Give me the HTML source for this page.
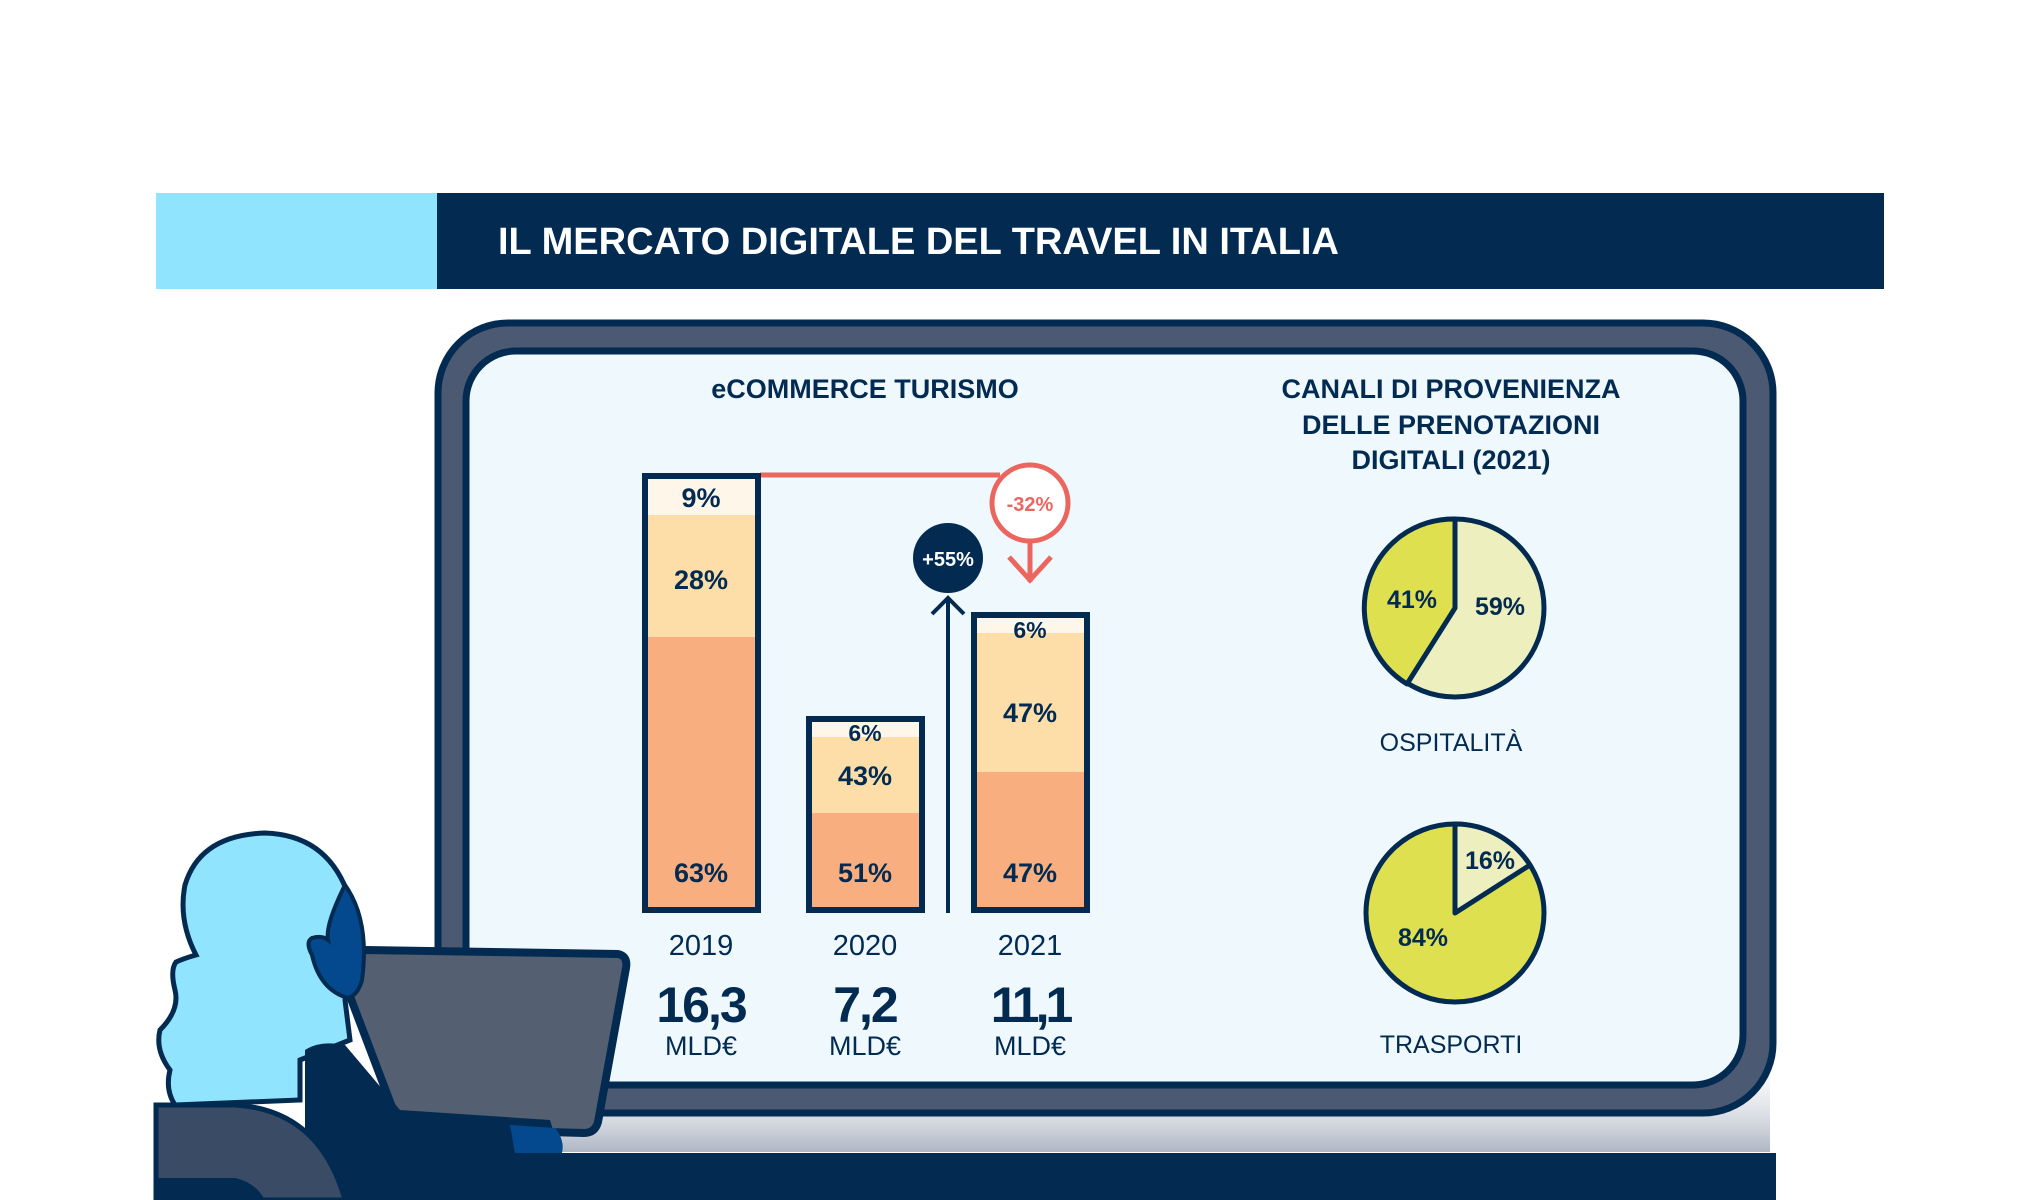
<!DOCTYPE html>
<html><head><meta charset="utf-8"><style>
html,body{margin:0;padding:0;background:#fff}
svg{display:block}
text{font-family:"Liberation Sans",sans-serif}
</style></head><body>
<svg width="2040" height="1200" viewBox="0 0 2040 1200">
<defs>
<linearGradient id="sh" x1="0" y1="0" x2="0" y2="1">
<stop offset="0" stop-color="#fff" stop-opacity="0"/>
<stop offset="1" stop-color="#8c97aa" stop-opacity="0.7"/>
</linearGradient>
</defs>
<rect width="2040" height="1200" fill="#fff"/>
<!-- header -->
<rect x="156" y="193" width="282" height="96" fill="#91e4fd"/>
<rect x="437" y="193" width="1447" height="96" fill="#032b52"/>
<text x="498" y="254" font-size="38" font-weight="bold" fill="#fff">IL MERCATO DIGITALE DEL TRAVEL IN ITALIA</text>
<!-- shadow -->
<rect x="540" y="1040" width="1230" height="112" fill="url(#sh)"/>
<!-- monitor -->
<rect x="438" y="323" width="1335" height="790" rx="70" fill="#4b5a72" stroke="#032b52" stroke-width="7"/>
<rect x="466" y="351" width="1277" height="734" rx="50" fill="#eef8fd" stroke="#032b52" stroke-width="7"/>
<!-- titles -->
<text x="865" y="398" font-size="27" font-weight="bold" fill="#032b52" text-anchor="middle">eCOMMERCE TURISMO</text>
<g font-size="27" font-weight="bold" fill="#032b52" text-anchor="middle">
<text x="1451" y="398">CANALI DI PROVENIENZA</text>
<text x="1451" y="434">DELLE PRENOTAZIONI</text>
<text x="1451" y="469">DIGITALI (2021)</text>
</g>
<!-- red line -->
<line x1="760" y1="475" x2="1000" y2="475" stroke="#ec6660" stroke-width="5"/>
<!-- bars -->
<g stroke="none">
<rect x="646" y="476" width="111" height="39" fill="#fff6ea"/>
<rect x="646" y="515" width="111" height="122" fill="#fddea8"/>
<rect x="646" y="637" width="111" height="273" fill="#f8ae7e"/>
<rect x="810" y="719" width="111" height="18" fill="#fff6ea"/>
<rect x="810" y="737" width="111" height="76" fill="#fddea8"/>
<rect x="810" y="813" width="111" height="97" fill="#f8ae7e"/>
<rect x="975" y="615" width="111" height="18" fill="#fff6ea"/>
<rect x="975" y="633" width="111" height="139" fill="#fddea8"/>
<rect x="975" y="772" width="111" height="138" fill="#f8ae7e"/>
</g>
<g fill="none" stroke="#032b52" stroke-width="6">
<rect x="645" y="476" width="113" height="434"/>
<rect x="809" y="719" width="113" height="191"/>
<rect x="974" y="615" width="113" height="295"/>
</g>
<g font-size="27" font-weight="bold" fill="#032b52" text-anchor="middle">
<text x="701" y="507">9%</text>
<text x="701" y="589">28%</text>
<text x="701" y="882">63%</text>
<text x="865" y="741" font-size="23">6%</text>
<text x="865" y="785">43%</text>
<text x="865" y="882">51%</text>
<text x="1030" y="638" font-size="23">6%</text>
<text x="1030" y="722">47%</text>
<text x="1030" y="882">47%</text>
</g>
<!-- up arrow -->
<line x1="948" y1="913" x2="948" y2="598" stroke="#032b52" stroke-width="4"/>
<polyline points="932,614 948,598 964,614" fill="none" stroke="#032b52" stroke-width="4"/>
<circle cx="948" cy="558" r="35" fill="#032b52"/>
<text x="948" y="566" font-size="20" font-weight="bold" fill="#fff" text-anchor="middle">+55%</text>
<!-- down arrow -->
<circle cx="1030" cy="503" r="38" fill="#fff" stroke="#ec6660" stroke-width="5"/>
<text x="1030" y="511" font-size="20" font-weight="bold" fill="#ec6660" text-anchor="middle">-32%</text>
<line x1="1030" y1="541" x2="1030" y2="582" stroke="#ec6660" stroke-width="5"/>
<polyline points="1009,557 1030,580 1051,557" fill="none" stroke="#ec6660" stroke-width="5"/>
<!-- year labels -->
<g fill="#032b52" text-anchor="middle">
<text x="701" y="955" font-size="29">2019</text>
<text x="865" y="955" font-size="29">2020</text>
<text x="1030" y="955" font-size="29">2021</text>
<text x="701" y="1022" font-size="50" font-weight="bold" letter-spacing="-2">16,3</text>
<text x="865" y="1022" font-size="50" font-weight="bold" letter-spacing="-2">7,2</text>
<text x="1030" y="1022" font-size="50" font-weight="bold" letter-spacing="-4">11,1</text>
<text x="701" y="1055" font-size="27">MLD€</text>
<text x="865" y="1055" font-size="27">MLD€</text>
<text x="1030" y="1055" font-size="27">MLD€</text>
</g>
<!-- pies -->
<circle cx="1455" cy="608" r="89" fill="#eeefbe" stroke="#032b52" stroke-width="5"/>
<path d="M1455,608 L1455,519 A89,89 0 0 0 1407,684 Z" fill="#dfe050" stroke="#032b52" stroke-width="5" stroke-linejoin="round"/>
<text x="1412" y="608" font-size="25" font-weight="bold" fill="#032b52" text-anchor="middle">41%</text>
<text x="1500" y="615" font-size="25" font-weight="bold" fill="#032b52" text-anchor="middle">59%</text>
<text x="1451" y="751" font-size="25" fill="#032b52" text-anchor="middle">OSPITALITÀ</text>
<circle cx="1455" cy="913" r="89" fill="#dfe050" stroke="#032b52" stroke-width="5"/>
<path d="M1455,913 L1455,824 A89,89 0 0 1 1530,865 Z" fill="#eeefbe" stroke="#032b52" stroke-width="5" stroke-linejoin="round"/>
<text x="1490" y="869" font-size="25" font-weight="bold" fill="#032b52" text-anchor="middle">16%</text>
<text x="1423" y="946" font-size="25" font-weight="bold" fill="#032b52" text-anchor="middle">84%</text>
<text x="1451" y="1053" font-size="25" fill="#032b52" text-anchor="middle">TRASPORTI</text>
<!-- desk -->
<rect x="156" y="1153" width="1620" height="47" fill="#032b52"/>
<!-- laptop -->
<path d="M365,950 L618,954 Q628,956 626,968 L598,1122 Q595,1133 584,1133 L400,1128 L340,970 Q336,950 365,950 Z" fill="#545f72" stroke="#032b52" stroke-width="8" stroke-linejoin="round"/>
<!-- person hair/head -->
<path d="M196,955 Q178,920 185,885 Q200,835 265,833 Q330,835 350,900 Q360,960 345,1000 L350,1040 L300,1060 L300,1100 L175,1105 Q165,1090 170,1070 Q155,1050 160,1030 Q180,1010 175,990 Q170,970 176,962 Q185,958 196,955 Z" fill="#91e4fd" stroke="#032b52" stroke-width="5"/>
<path d="M345,885 Q370,920 362,980 Q358,995 348,998 Q320,990 312,955 Q305,942 312,938 Q322,935 328,940 Q325,925 345,885 Z" fill="#04498d" stroke="#032b52" stroke-width="4"/>
<!-- body -->
<path d="M305,1050 Q320,1040 345,1045 L400,1110 L550,1120 L560,1153 L305,1200 Z" fill="#032b52"/>
<path d="M510,1125 L555,1128 Q565,1140 562,1153 L515,1153 Z" fill="#04498d"/>
<!-- chair -->
<path d="M156,1105 L235,1105 Q320,1110 345,1200 L156,1200 Z" fill="#3a4b66" stroke="#032b52" stroke-width="5"/>
<path d="M156,1178 L235,1178 Q255,1182 265,1200 L156,1200 Z" fill="#032b52"/>
</svg>
</body></html>
